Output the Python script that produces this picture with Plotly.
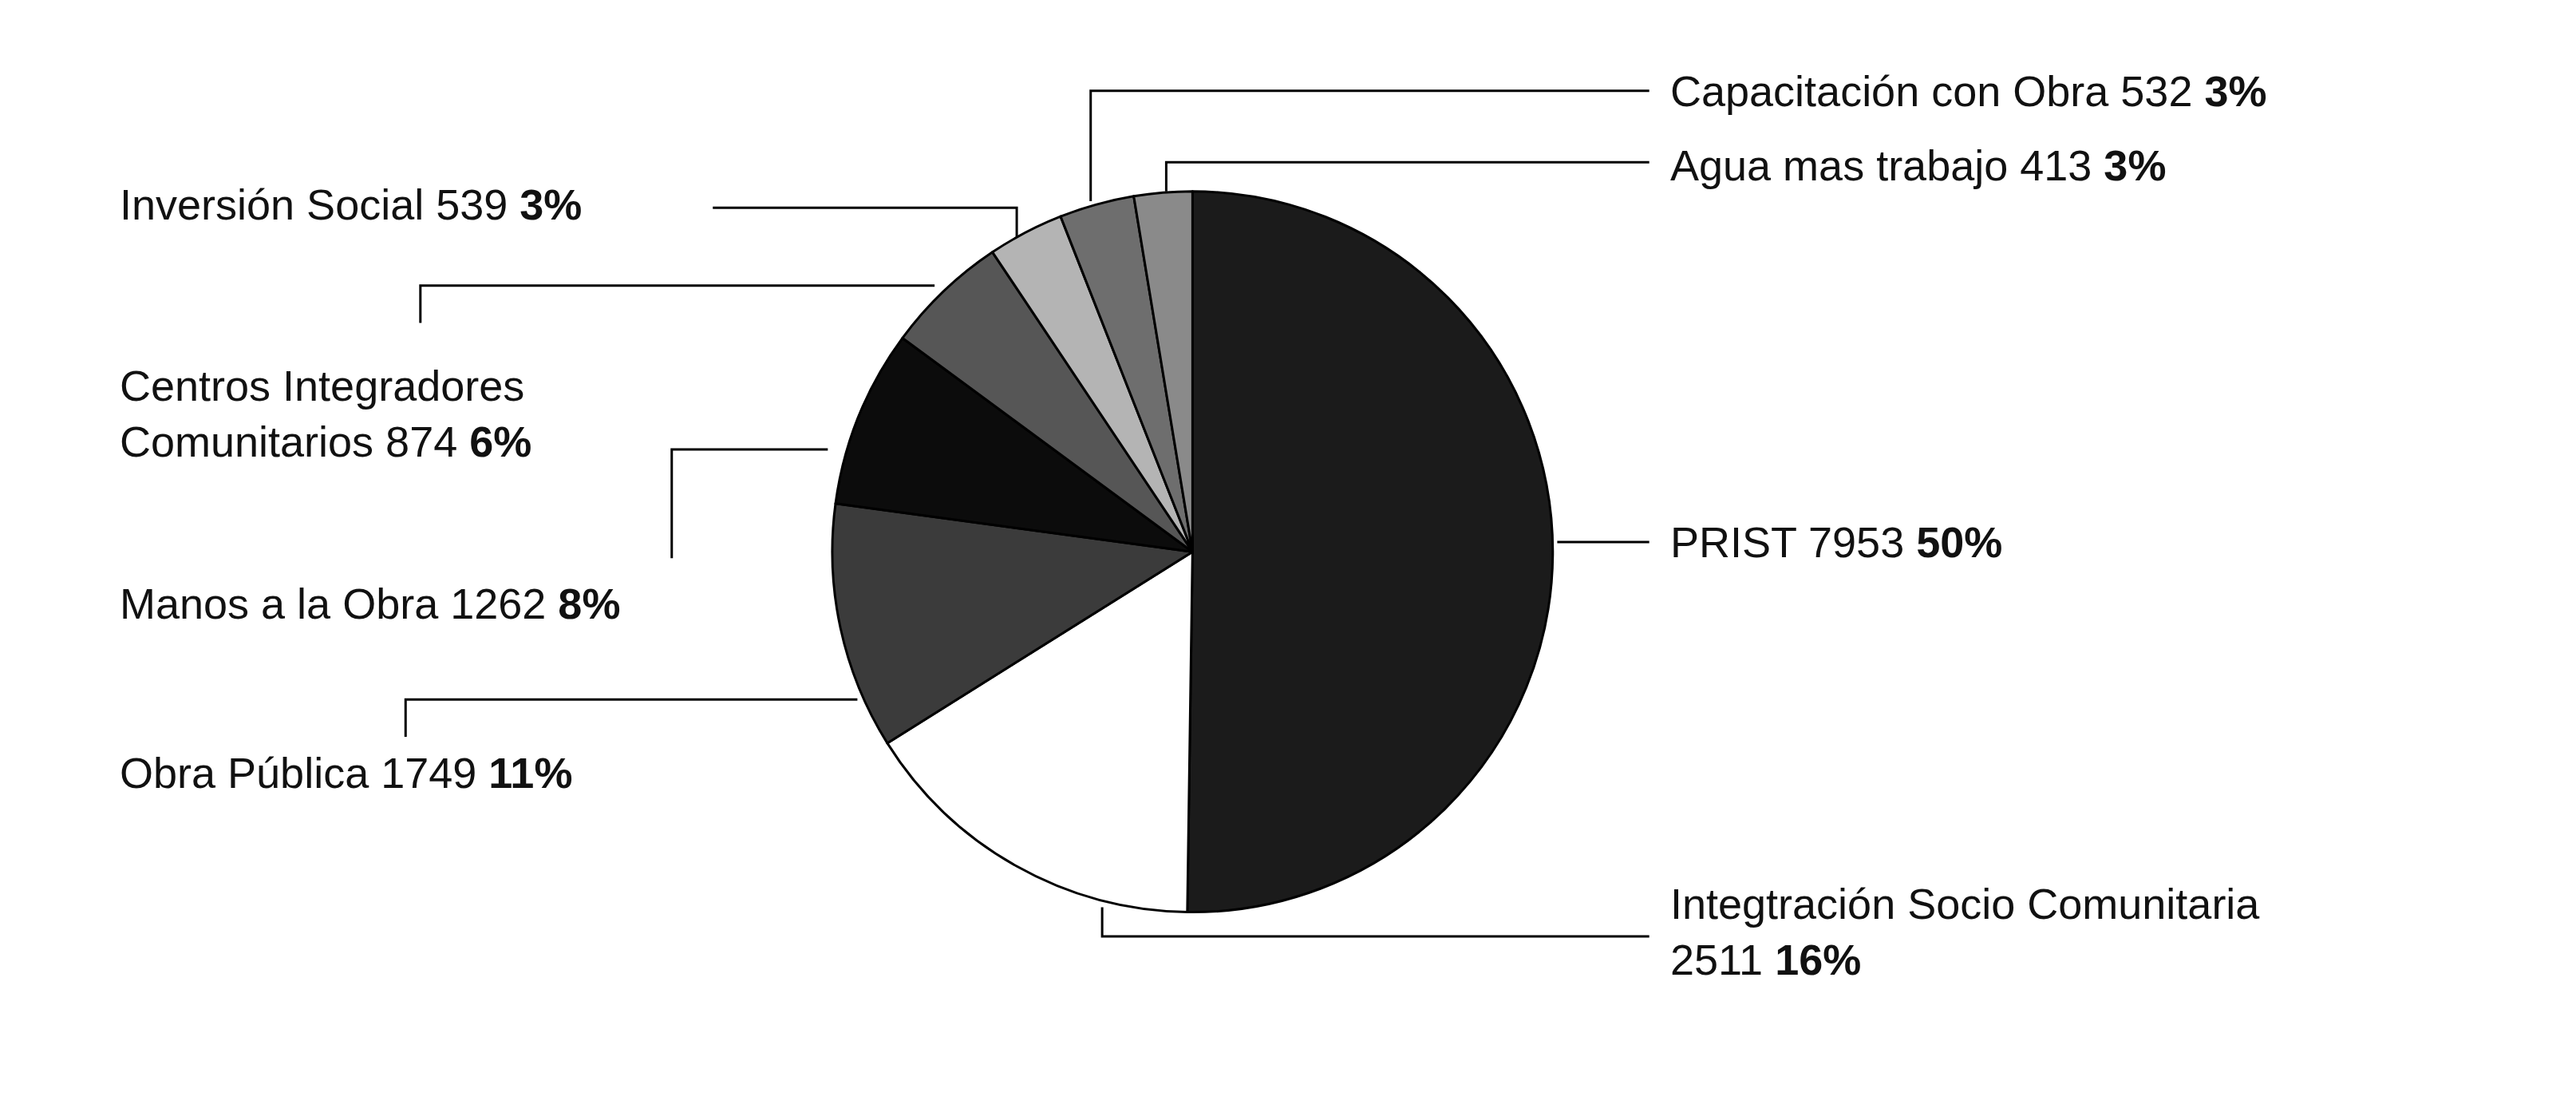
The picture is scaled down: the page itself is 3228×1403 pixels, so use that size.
import plotly.graph_objects as go

W, H = 3228, 1403
SX, SY = W / 1568, H / 690  # reference sketch coordinates -> page pixels

labels = ["PRIST", "Integtración Socio Comunitaria", "Obra Pública", "Manos a la Obra",
          "Centros Integradores Comunitarios", "Inversión Social", "Capacitación con Obra",
          "Agua mas trabajo"]
values = [7953, 2511, 1749, 1262, 874, 539, 532, 413]
percents = [50, 16, 11, 8, 6, 3, 3, 3]
colors = ["#1b1b1b", "#ffffff", "#3b3b3b", "#0c0c0c", "#565656", "#b4b4b4", "#6e6e6e", "#8a8a8a"]

# label texts (sketch coords of text anchor)
texts = [
    ("PRIST 7953 <b>50%</b>", 1012, 330),
    ("Integtración Socio Comunitaria<br>2511 <b>16%</b>", 1012, 570),
    ("Obra Pública 1749 <b>11%</b>", 68, 472),
    ("Manos a la Obra 1262 <b>8%</b>", 68, 368),
    ("Centros Integradores<br>Comunitarios 874 <b>6%</b>", 68, 251),
    ("Inversión Social 539 <b>3%</b>", 68, 122),
    ("Capacitación con Obra 532 <b>3%</b>", 1012, 52),
    ("Agua mas trabajo 413 <b>3%</b>", 1012, 98),
]

# leader lines as polylines in sketch coords
leaders = [
    [(944, 330), (1000, 330)],
    [(667, 555), (667, 573), (1000, 573)],
    [(243, 450), (243, 427), (518, 427)],
    [(405, 340), (405, 273), (500, 273)],
    [(252, 195), (252, 172), (565, 172)],
    [(430, 124), (615, 124), (615, 142)],
    [(660, 120), (660, 52), (1000, 52)],
    [(706, 114), (706, 96), (1000, 96)],
]

def fx(x):
    return x * SX / W

def fy(y):
    return 1 - y * SY / H

cx, cy, r = 722, 336, 222
fig = go.Figure(go.Pie(
    labels=labels, values=values, sort=False, direction="clockwise", rotation=0,
    marker=dict(colors=colors, line=dict(color="#000000", width=3)),
    textinfo="none", hoverinfo="label+value+percent", showlegend=False,
    domain=dict(x=[fx(cx - r * SY / SX), fx(cx + r * SY / SX)], y=[fy(cy + r), fy(cy - r)]),
))

for (t, x, y) in texts:
    fig.add_annotation(text=t, x=fx(x), y=fy(y), xref="paper", yref="paper",
                       xanchor="left", yanchor="middle", align="left", showarrow=False,
                       font=dict(family="Liberation Sans", size=54, color="#111111"))

for pts in leaders:
    path = "M " + " L ".join(f"{fx(x)},{fy(y)}" for x, y in pts)
    fig.add_shape(type="path", path=path, xref="paper", yref="paper",
                  line=dict(color="#000000", width=3))

fig.update_layout(width=W, height=H, margin=dict(l=0, r=0, t=0, b=0),
                  paper_bgcolor="white", plot_bgcolor="white")
fig.write_html("out.html")
